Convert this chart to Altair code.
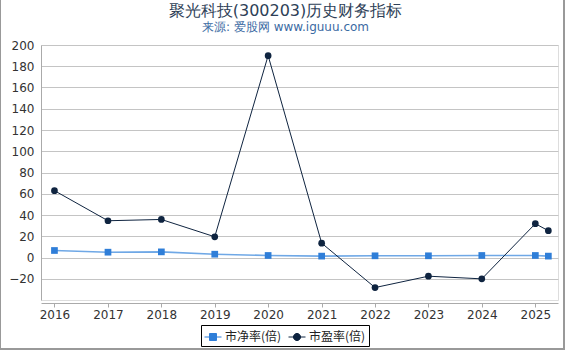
import altair as alt
import pandas as pd

# ---- data ----
dates = ["2016-01-01", "2017-01-01", "2018-01-01", "2019-01-01", "2020-01-01",
         "2021-01-01", "2022-01-01", "2023-01-01", "2024-01-01", "2025-01-01",
         "2025-03-31"]
pb = [6.6, 5.0, 5.3, 3.1, 1.9, 1.3, 1.6, 1.6, 1.9, 1.9, 1.3]
pe = [62.9, 34.6, 35.8, 19.5, 190.0, 13.5, -28.3, -17.6, -20.1, 31.8, 25.2]
series_names = ["市净率(倍)", "市盈率(倍)"]
y_ticks = [-20, 0, 20, 40, 60, 80, 100, 120, 140, 160, 180, 200]
x_tick_years = list(range(2016, 2026))

df = pd.DataFrame({"date": dates, series_names[0]: pb, series_names[1]: pe})

PB_LINE = "#6fa8e6"
PB_MARK = "#2f7ed8"
PE_COLOR = "#0f2440"
FONT = "DejaVu Sans"
CJK = "Noto Sans CJK SC"

W, H = 517, 255

x_enc = alt.X(
    "date:T",
    scale=alt.Scale(
        type="utc",
        domain=[alt.DateTime(year=2015, month=10, date=1, utc=True),
                alt.DateTime(year=2025, month=6, date=5, utc=True)],
    ),
    axis=alt.Axis(
        title=None,
        values=[alt.DateTime(year=y, month=1, date=1, utc=True) for y in x_tick_years],
        format="%Y",
        formatType="utc",
        grid=False,
        offset=3,
        domainColor="#aaaaaa",
        tickColor="#aaaaaa",
        tickSize=4,
        labelPadding=2,
        labelFont=FONT,
        labelFontSize=12,
        labelColor="#333333",
        labelOverlap=False,
    ),
)

y_scale = alt.Scale(domain=[-40, 200], nice=False, zero=False)
y_axis = alt.Axis(
    title=None,
    values=y_ticks,
    grid=True,
    gridColor="#c4c4c4",
    domainColor="#aaaaaa",
    ticks=False,
    labelPadding=7,
    labelFont=FONT,
    labelFontSize=12,
    labelColor="#333333",
    labelOverlap=False,
    labelFlush=False,
)


def yq(field):
    return alt.Y(field, scale=y_scale, axis=y_axis)


base = alt.Chart(df)

pb_line = base.mark_line(color=PB_LINE, strokeWidth=1.6).encode(
    x=x_enc, y=yq(f"{series_names[0]}:Q"))
pb_pts = base.mark_square(color=PB_MARK, size=45, opacity=1).encode(
    x=x_enc, y=yq(f"{series_names[0]}:Q"))
pe_line = base.mark_line(color=PE_COLOR, strokeWidth=1).encode(
    x=x_enc, y=yq(f"{series_names[1]}:Q"))
pe_pts = base.mark_circle(color=PE_COLOR, size=45, opacity=1).encode(
    x=x_enc, y=yq(f"{series_names[1]}:Q"))

sq_path = "M-1,0H1M-0.41,-0.41H0.41V0.41H-0.41Z"
ci_path = "M-1,0H1M0.42,0A0.42,0.42,0,1,1,-0.42,0A0.42,0.42,0,1,1,0.42,0Z"

leg = alt.Legend(
    title=None, orient="none", legendX=160, legendY=280,
    direction="horizontal", strokeColor="black", padding=3,
    symbolSize=289, symbolStrokeWidth=1, symbolOpacity=1,
    labelFont=CJK, labelFontSize=12, labelColor="#222222",
    labelOffset=3, columnPadding=4, cornerRadius=0,
)
col_scale = alt.Scale(domain=series_names, range=[PB_MARK, PE_COLOR])

# legend-only layer: rows are filtered out, the legend comes from the fixed scale domain
legend_layer = base.transform_fold(series_names, as_=["系列", "值"]).transform_filter(
    "datum['值'] > 100000"
).mark_point(filled=True, strokeWidth=1, opacity=1).encode(
    x=x_enc,
    y=yq("值:Q"),
    fill=alt.Fill("系列:N", scale=col_scale, legend=leg),
    stroke=alt.Stroke("系列:N", scale=col_scale, legend=leg),
    shape=alt.Shape("系列:N", scale=alt.Scale(domain=series_names, range=[sq_path, ci_path]),
                    legend=leg),
)

frame = alt.Data(values=[{"k": 1}])
left_b = alt.Chart(frame).mark_rule(color="#999999", strokeWidth=1).encode(
    x=alt.value(-40.5), y=alt.value(-45), y2=alt.value(305))
right_b = alt.Chart(frame).mark_rule(color="#999999", strokeWidth=2).encode(
    x=alt.value(523), y=alt.value(-45), y2=alt.value(305))
bottom_b = alt.Chart(frame).mark_rule(color="#999999", strokeWidth=2).encode(
    x=alt.value(-41), x2=alt.value(524), y=alt.value(304))

chart = alt.layer(
    pb_line, pb_pts, pe_line, pe_pts, legend_layer, left_b, right_b, bottom_b
).properties(
    width=W,
    height=H,
    title=alt.TitleParams(
        text="聚光科技(300203)历史财务指标",
        subtitle="来源: 爱股网 www.iguuu.com",
        anchor="middle",
        frame="group",
        dx=-14,
        offset=-34,
        font=FONT,
        fontSize=16,
        fontWeight="normal",
        color="#2e3f57",
        subtitleFont=FONT,
        subtitleFontSize=12,
        subtitleColor="#3b6aa3",
        subtitlePadding=3,
    ),
    autosize=alt.AutoSizeParams(type="none"),
    padding={"left": 41, "right": 12, "top": 45, "bottom": 50},
).configure_view(stroke=None).configure(background="white").configure_axisY(
    labelOverlap=False
)

chart.save("out.html", embed_options={"renderer": "svg", "actions": False})
